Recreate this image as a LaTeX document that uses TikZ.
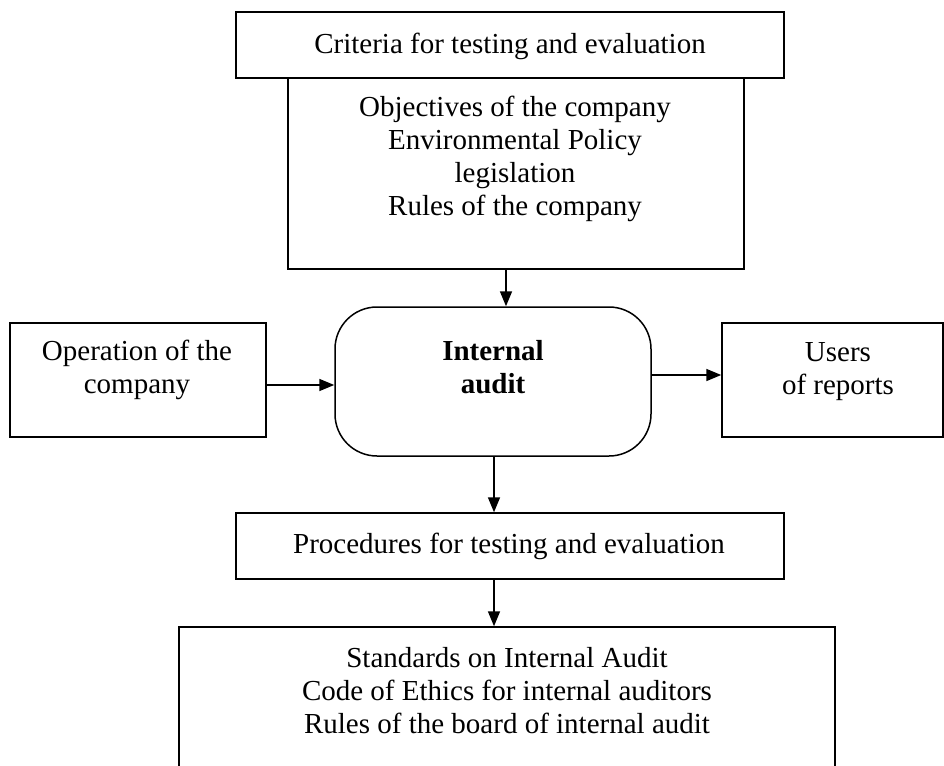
\documentclass[tikz,border=0pt]{standalone}
\usepackage{fontspec}
\setmainfont{Liberation Serif}
\usetikzlibrary{arrows.meta}
\begin{document}
\begin{tikzpicture}[x=1pt,y=-1pt,
  box/.style={draw, line width=1.5pt, rectangle, inner sep=0pt},
  rbox/.style={box, rounded corners=42pt},
  txt/.style={align=center, inner sep=0pt, font=\fontsize{29}{33}\selectfont},
  arr/.style={line width=1.6pt, -{Triangle[length=15pt,width=12pt]}}]
\useasboundingbox (0,0) rectangle (944,765);
\fill[white] (0,0) rectangle (944,765);
\clip (0,0) rectangle (944,765);
% boxes
\node[box, minimum width=548pt, minimum height=66pt] (crit) at (510,45) {};
\node[box, minimum width=456pt, minimum height=191pt] (obj) at (516,173.5) {};
\node[rbox, minimum width=316pt, minimum height=149pt] (ia) at (493,381.5) {};
\node[box, minimum width=256pt, minimum height=114pt] (op) at (138,380) {};
\node[box, minimum width=221pt, minimum height=114pt] (users) at (832.5,380) {};
\node[box, minimum width=548pt, minimum height=66pt] (proc) at (510,546) {};
\node[box, minimum width=656pt, minimum height=173pt] (std) at (507,713.5) {};
% texts
\node[txt] (tcrit) at (510,46) {Criteria for testing and evaluation};
\node[txt] (tobj) at (515,159) {Objectives of the company\\Environmental Policy\\legislation\\Rules of the company};
\node[txt, font=\fontsize{29}{33}\selectfont\bfseries] (tia) at (493,367) {Internal\\audit};
\node[txt] (top) at (137,370) {Operation of the\\company};
\node[txt] (tusers) at (838,372) {Users\\of reports};
\node[txt] (tproc) at (509,546) {Procedures for testing and evaluation};
\node[txt] (tstd) at (507,691) {Standards on Internal Audit\\Code of Ethics for internal auditors\\Rules of the board of internal audit};
% helper coordinates
\coordinate (xa) at (506,0);
\coordinate (xb) at (494,0);
\coordinate (ya) at (0,385);
\coordinate (yb) at (0,375);
% connectors
\draw[arr] (obj.south -| xa) -- (ia.north -| xa);
\draw[arr] (op.east |- ya) -- (ia.west |- ya);
\draw[arr] (ia.east |- yb) -- (users.west |- yb);
\draw[arr] (ia.south -| xb) -- (proc.north -| xb);
\draw[arr] (proc.south -| xb) -- (std.north -| xb);
\end{tikzpicture}
\end{document}
